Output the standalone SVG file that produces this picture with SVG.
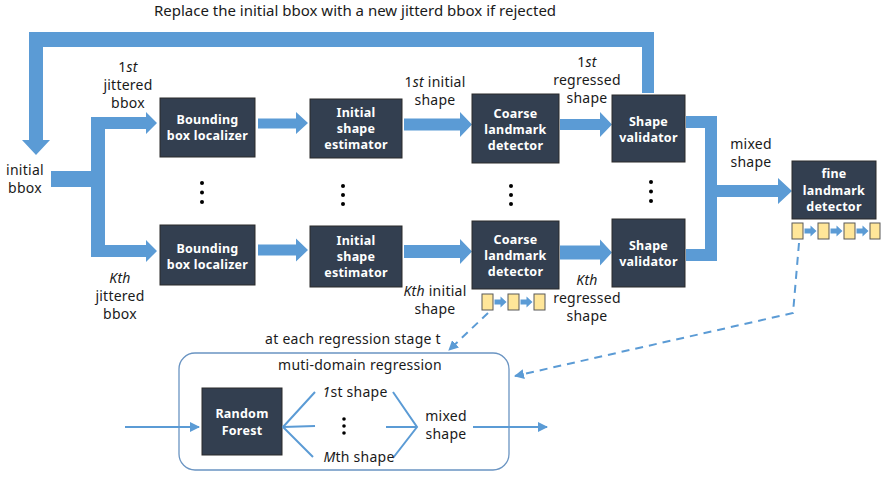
<svg xmlns="http://www.w3.org/2000/svg" width="885" height="478" viewBox="0 0 885 478">
<style>
text{font-family:"Noto Sans","Open Sans","DejaVu Sans",sans-serif;}
.t{font-size:14px;letter-spacing:0.25px;fill:#1a1a1a;text-anchor:middle;}
.ttl{font-size:15px;letter-spacing:0;}
.bt{font-size:12.5px;letter-spacing:0.25px;font-weight:bold;fill:#ffffff;text-anchor:middle;}
.box{fill:#333f50;stroke:#2a2a2a;stroke-width:1;}
.band{fill:#5b9bd5;}
.film{fill:#ffe699;stroke:#595959;stroke-width:1;}
.dash{fill:none;stroke:#5b9bd5;stroke-width:2;stroke-dasharray:8,6;}
.thin{fill:none;stroke:#5b9bd5;stroke-width:2;}
.dot{fill:#000;}
</style>
<defs>
<marker id="ah" viewBox="0 0 10 10" refX="9" refY="5" markerWidth="5" markerHeight="5" orient="auto" markerUnits="strokeWidth">
<path d="M0,0 L10,5 L0,10 Z" fill="#5b9bd5"/>
</marker>
<path id="sa" d="M0,-2.5 H6 V-5.5 L12,0 L6,5.5 V2.5 H0 Z" fill="#5b9bd5"/>
</defs>

<text class="t ttl" x="355" y="16">Replace the initial bbox with a new jitterd bbox if rejected</text>

<g id="connectors">
<path class="band" d="M29,32 H654 V93 H642 V47 H43 V140 H50 L36,155 L22,140 H29 Z"/>
<path class="band" d="M51,171 H91 V117 H146 V112 L157,123 L146,134 V129 H105 V245 H146 V240 L157,251 L146,262 V257 H91 V187 H51 Z"/>
<path class="band" d="M258,118.5 H296 V112 L308,123 L296,134 V128.5 H258 Z"/>
<path class="band" d="M404,118.5 H460 V112 L472,124.5 L460,137 V130.5 H404 Z"/>
<path class="band" d="M560,119 H600 V112 L612,124.5 L600,137 V130 H560 Z"/>
<path class="band" d="M258,244.5 H296 V238.5 L308,250 L296,261.5 V255.5 H258 Z"/>
<path class="band" d="M404,245 H460 V239 L472,251.5 L460,264 V258 H404 Z"/>
<path class="band" d="M560,245.5 H600 V239.5 L612,252.5 L600,265.5 V259.5 H560 Z"/>
<path class="band" d="M686,116 H717 V185 H778 V178 L792,191 L778,204 V197 H717 V261 H686 V249 H705 V128 H686 Z"/>
<polyline class="dash" points="488,313 449,350" marker-end="url(#ah)"/>
<polyline class="dash" points="799,243 793,313 515,376" marker-end="url(#ah)"/>
</g>

<g id="labels">
<text class="t" x="128" y="72">1<tspan font-style="italic">st</tspan></text>
<text class="t" x="128" y="90">jittered</text>
<text class="t" x="128" y="108">bbox</text>
<text class="t" x="25" y="175">initial</text>
<text class="t" x="25" y="193">bbox</text>
<text class="t" x="435" y="87">1<tspan font-style="italic">st</tspan> initial</text>
<text class="t" x="435" y="105">shape</text>
<text class="t" x="587" y="67">1<tspan font-style="italic">st</tspan></text>
<text class="t" x="587" y="85">regressed</text>
<text class="t" x="587" y="103">shape</text>
<text class="t" x="751" y="149">mixed</text>
<text class="t" x="751" y="167">shape</text>
<text class="t" x="120" y="283"><tspan font-style="italic">Kth</tspan></text>
<text class="t" x="120" y="301">jittered</text>
<text class="t" x="120" y="319">bbox</text>
<text class="t" x="435" y="296"><tspan font-style="italic">Kth</tspan> initial</text>
<text class="t" x="435" y="314">shape</text>
<text class="t" x="587" y="285"><tspan font-style="italic">Kth</tspan></text>
<text class="t" x="587" y="303">regressed</text>
<text class="t" x="587" y="321">shape</text>
<text class="t" x="353" y="344">at each regression stage t</text>
</g>

<g id="dots">
<circle class="dot" cx="202" cy="183" r="2"/><circle class="dot" cx="202" cy="192.5" r="2"/><circle class="dot" cx="202" cy="202" r="2"/>
<circle class="dot" cx="343" cy="186" r="2"/><circle class="dot" cx="343" cy="195" r="2"/><circle class="dot" cx="343" cy="204" r="2"/>
<circle class="dot" cx="511" cy="186" r="2"/><circle class="dot" cx="511" cy="195" r="2"/><circle class="dot" cx="511" cy="204" r="2"/>
<circle class="dot" cx="651" cy="182" r="2"/><circle class="dot" cx="651" cy="191.5" r="2"/><circle class="dot" cx="651" cy="201" r="2"/>
</g>

<g id="bbox-top"><rect class="box" x="160" y="98" width="95" height="59"/>
<text class="bt" x="207.5" y="124">Bounding</text><text class="bt" x="207.5" y="140">box localizer</text></g>
<g id="init-top"><rect class="box" x="310" y="99" width="92" height="59"/>
<text class="bt" x="356" y="117">Initial</text><text class="bt" x="356" y="133">shape</text><text class="bt" x="356" y="149">estimator</text></g>
<g id="coarse-top"><rect class="box" x="472" y="94" width="87" height="69"/>
<text class="bt" x="515.5" y="118">Coarse</text><text class="bt" x="515.5" y="134">landmark</text><text class="bt" x="515.5" y="150">detector</text></g>
<g id="valid-top"><rect class="box" x="612" y="95" width="73" height="67"/>
<text class="bt" x="648.5" y="126">Shape</text><text class="bt" x="648.5" y="142">validator</text></g>

<g id="bbox-bot"><rect class="box" x="160" y="225" width="95" height="60"/>
<text class="bt" x="207.5" y="253">Bounding</text><text class="bt" x="207.5" y="269">box localizer</text></g>
<g id="init-bot"><rect class="box" x="310" y="226" width="92" height="61"/>
<text class="bt" x="356" y="245">Initial</text><text class="bt" x="356" y="261">shape</text><text class="bt" x="356" y="277">estimator</text></g>
<g id="coarse-bot"><rect class="box" x="472" y="221" width="87" height="68"/>
<text class="bt" x="515.5" y="244">Coarse</text><text class="bt" x="515.5" y="260">landmark</text><text class="bt" x="515.5" y="276">detector</text></g>
<g id="valid-bot"><rect class="box" x="612" y="219" width="73" height="68"/>
<text class="bt" x="648.5" y="250">Shape</text><text class="bt" x="648.5" y="266">validator</text></g>

<g id="fine"><rect class="box" x="792" y="161" width="84" height="58"/>
<text class="bt" x="834" y="178">fine</text><text class="bt" x="834" y="195">landmark</text><text class="bt" x="834" y="211">detector</text></g>

<g id="film-coarse">
<rect class="film" x="482" y="294" width="11" height="16"/>
<rect class="film" x="508" y="294" width="11" height="16"/>
<rect class="film" x="534" y="294" width="11" height="16"/>
<use href="#sa" x="494.5" y="302"/><use href="#sa" x="520.5" y="302"/>
</g>
<g id="film-fine">
<rect class="film" x="792" y="223" width="11" height="16"/>
<rect class="film" x="818" y="223" width="11" height="16"/>
<rect class="film" x="844" y="223" width="11" height="16"/>
<rect class="film" x="870" y="223" width="10" height="16"/>
<use href="#sa" x="804.5" y="231"/><use href="#sa" x="830.5" y="231"/><use href="#sa" x="856.5" y="231"/>
</g>

<g id="regression">
<rect x="179" y="353" width="330" height="117" rx="16" fill="none" stroke="#6a94c2" stroke-width="1.3"/>
<text class="t" x="360" y="370">muti-domain regression</text>
<line class="thin" x1="125" y1="427" x2="199" y2="427" marker-end="url(#ah)"/>
<line class="thin" x1="473" y1="427" x2="547" y2="427" marker-end="url(#ah)"/>
<g id="random-forest"><rect class="box" x="202" y="388" width="80" height="67"/>
<text class="bt" x="242" y="418">Random</text><text class="bt" x="242" y="435">Forest</text></g>
<polyline class="thin" points="315,392 283,427 313,457"/>
<line class="thin" x1="283" y1="427" x2="315" y2="426"/>
<polyline class="thin" points="393,392 417,427 393,458"/>
<line class="thin" x1="386" y1="427" x2="417" y2="427"/>
<text class="t" x="355" y="397"><tspan font-style="italic">1</tspan>st shape</text>
<text class="t" x="359" y="462"><tspan font-style="italic">M</tspan>th shape</text>
<circle class="dot" cx="344" cy="419" r="1.8"/><circle class="dot" cx="344" cy="426" r="1.8"/><circle class="dot" cx="344" cy="433" r="1.8"/>
<text class="t" x="446" y="421">mixed</text>
<text class="t" x="446" y="439">shape</text>
</g>
</svg>
